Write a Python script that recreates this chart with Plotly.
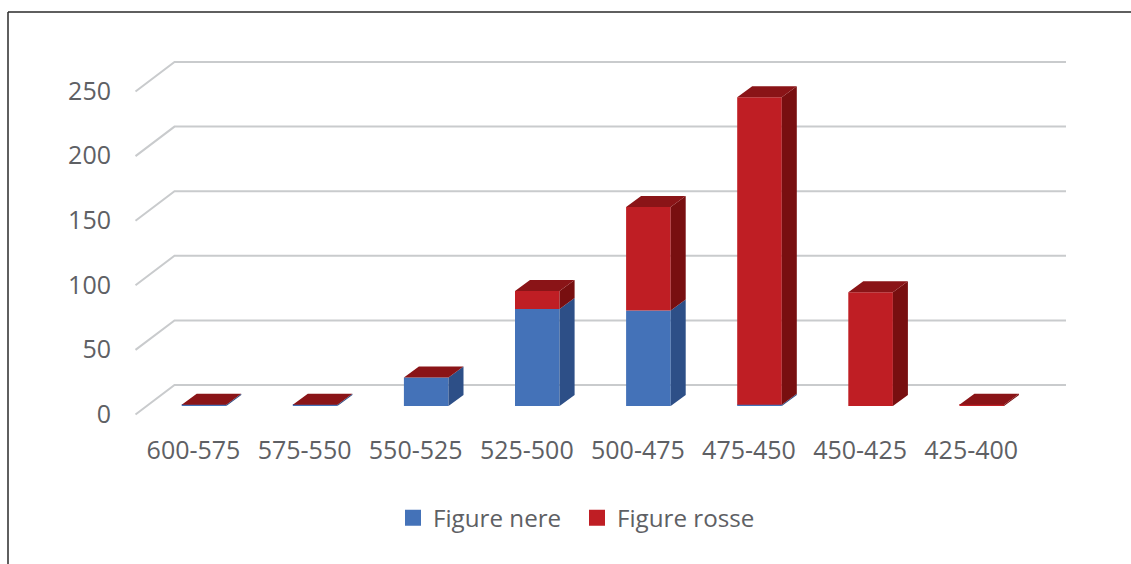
import plotly.graph_objects as go

categories = ["600-575", "575-550", "550-525", "525-500", "500-475", "475-450", "450-425", "425-400"]
figure_nere = [1, 1, 22, 75, 74, 1, 0, 0]
figure_rosse = [0, 0, 0, 14, 80, 238, 88, 1]
y_ticks = [0, 50, 100, 150, 200, 250]

W, H = 1131, 564
L, R, T, B = 130, 1075, 50, 425
X_UNIT, Y_UNIT = 111.1, 1.292
X0_PX, Y0_PX = 193.5, 406
x_range = [(L - X0_PX) / X_UNIT, (R - X0_PX) / X_UNIT]
y_range = [(Y0_PX - B) / Y_UNIT, (Y0_PX - T) / Y_UNIT]

SHIFT, HALF = 10.5 / X_UNIT, 22.3 / X_UNIT
DX, DY = 15 / X_UNIT, 11 / Y_UNIT
WALL_L, WALL_R = (174.5 - X0_PX) / X_UNIT, (1066 - X0_PX) / X_UNIT
DIAG_L = (135.5 - X0_PX) / X_UNIT
WALL_UP, DIAG_DOWN = 21 / Y_UNIT, 29.5 / Y_UNIT

xs = list(range(len(categories)))
fig = go.Figure()

# back wall grid, drawn on the lower subplot so the bars cover it
gx, gy = [], []
for v in y_ticks:
    gx += [DIAG_L, WALL_L, WALL_R, None]
    gy += [v + WALL_UP - DIAG_DOWN, v + WALL_UP, v + WALL_UP, None]
fig.add_trace(go.Scatter(x=gx, y=gy, mode="lines", line=dict(color="#c9cbcd", width=2),
                         hoverinfo="skip", showlegend=False))

BLUE, BLUE_SIDE = "#4472b8", "#2d4f87"
RED, RED_SIDE, RED_TOP = "#bf1e24", "#780f10", "#8a1417"


def side(base, height):
    sx, sy = [], []
    for i, (b, h) in enumerate(zip(base, height)):
        if h <= 0:
            continue
        x = i + SHIFT + HALF
        sx += [x, x + DX, x + DX, x, x, None]
        sy += [b, b + DY, b + h + DY, b + h, b, None]
    return sx, sy


def poly(sx, sy, color):
    fig.add_trace(go.Scatter(x=sx, y=sy, mode="none", fill="toself", fillcolor=color,
                             hoverinfo="skip", showlegend=False, xaxis="x2", yaxis="y2"))


for name, vals, base, color in [
    ("Figure nere", figure_nere, [0] * 8, BLUE),
    ("Figure rosse", figure_rosse, figure_nere, RED),
]:
    fig.add_trace(go.Bar(name=name, x=xs, y=vals, base=base, width=2 * HALF,
                         offset=SHIFT - HALF, marker=dict(color=color, line=dict(width=0)),
                         xaxis="x2", yaxis="y2", showlegend=False, legendgroup=name))

poly(*side([0] * 8, figure_nere), BLUE_SIDE)
poly(*side(figure_nere, figure_rosse), RED_SIDE)

tx, ty = [], []
for i, (a, b) in enumerate(zip(figure_nere, figure_rosse)):
    top = a + b
    l, r = i + SHIFT - HALF, i + SHIFT + HALF
    tx += [l, r, r + DX, l + DX, l, None]
    ty += [top, top, top + DY, top + DY, top, None]
poly(tx, ty, RED_TOP)

# legend keys: square swatches at the reference's size, one legend per series
for name, color, legend in [("Figure nere", BLUE, "legend"), ("Figure rosse", RED, "legend2")]:
    fig.add_trace(go.Scatter(x=[None], y=[None], mode="markers", name=name, legend=legend,
                             legendgroup=name, marker=dict(symbol="square", size=16, color=color),
                             xaxis="x2", yaxis="y2"))

TEXT = "#5e6064"
FONT = "Open Sans"


def legend_at(px):
    return dict(orientation="h", x=px / W, xanchor="left", y=1 - 518 / H, yanchor="middle",
                font=dict(size=24.2, color=TEXT), bgcolor="rgba(0,0,0,0)")


fig.update_layout(
    width=W, height=H, margin=dict(l=0, r=0, t=0, b=0, autoexpand=False), autosize=False,
    paper_bgcolor="white", plot_bgcolor="white", barmode="overlay",
    font=dict(family=FONT, color=TEXT, size=25),
    xaxis=dict(domain=[L / W, R / W], range=x_range, tickmode="array", tickvals=xs,
               ticktext=categories, showgrid=False, zeroline=False, showline=False,
               ticks="", ticklabelstandoff=8, tickangle=0, tickfont=dict(size=25)),
    yaxis=dict(domain=[1 - B / H, 1 - T / H], range=y_range, tickmode="array",
               tickvals=y_ticks, showgrid=False, zeroline=False, showline=False,
               ticks="", ticklabelstandoff=18, ticklabelshift=8, tickfont=dict(size=25)),
    xaxis2=dict(domain=[L / W, R / W], range=x_range, overlaying="x", visible=False),
    yaxis2=dict(domain=[1 - B / H, 1 - T / H], range=y_range, overlaying="y", visible=False),
    legend=legend_at(393),
    legend2=legend_at(577),
    shapes=[
        dict(type="line", xref="paper", yref="paper", x0=8 / W, x1=1, y0=1 - 12 / H, y1=1 - 12 / H,
             line=dict(color="#2a2a2a", width=1.5)),
        dict(type="line", xref="paper", yref="paper", x0=8 / W, x1=8 / W, y0=0, y1=1 - 12 / H,
             line=dict(color="#2a2a2a", width=1.5)),
    ],
)

fig.write_html("out.html", config=dict(displayModeBar=False),
               post_script="document.body.style.margin='0';")
